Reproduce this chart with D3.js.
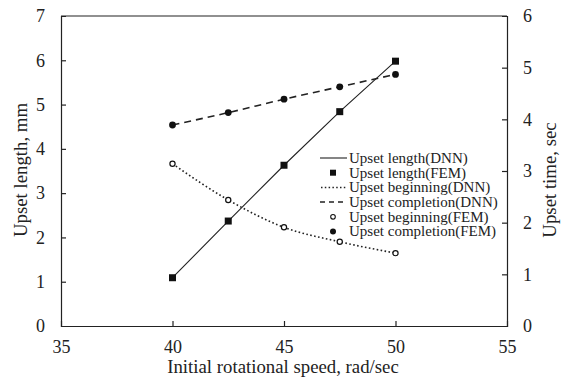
<!DOCTYPE html>
<html>
<head>
<meta charset="utf-8">
<script src="https://cdn.jsdelivr.net/npm/d3@7"></script>
<style>
  body { margin: 0; background: #fff; }
  text { font-family: "Liberation Serif", "Times New Roman", serif; fill: #222; }
</style>
</head>
<body>
<script>
const width = 569;
const height = 385;
const margin = { top: 16, right: 62, bottom: 59, left: 61 };

// values
const speeds = [40, 42.5, 45, 47.5, 50];
const lengthFEM = [1.09, 2.37, 3.63, 4.84, 5.98];
const lengthDNN = [1.09, 2.37, 3.63, 4.84, 5.98];
const beginFEM = [3.14, 2.44, 1.91, 1.63, 1.41];
const beginDNN = [3.14, 2.44, 1.91, 1.63, 1.41];
const completeFEM = [3.89, 4.13, 4.39, 4.63, 4.87];
const completeDNN = [3.89, 4.13, 4.39, 4.63, 4.87];
const xTicks = [35, 40, 45, 50, 55];
const yLeftTicks = [0, 1, 2, 3, 4, 5, 6, 7];
const yRightTicks = [0, 1, 2, 3, 4, 5, 6];
const legendLabels = [
  "Upset length(DNN)", "Upset length(FEM)", "Upset beginning(DNN)",
  "Upset completion(DNN)", "Upset beginning(FEM)", "Upset completion(FEM)"
];

const innerW = width - margin.left - margin.right;
const innerH = height - margin.top - margin.bottom;

const x = d3.scaleLinear().domain([35, 55]).range([0, innerW]);
const yL = d3.scaleLinear().domain([0, 7]).range([innerH, 0]);
const yR = d3.scaleLinear().domain([0, 6]).range([innerH, 0]);

const svg = d3.select("body").append("svg")
  .attr("width", width)
  .attr("height", height);

const g = svg.append("g")
  .attr("transform", `translate(${margin.left},${margin.top})`);

const fmt = d3.format("d");

// axes with inward ticks
const xAxis = g.append("g")
  .attr("transform", `translate(0,${innerH})`)
  .call(d3.axisBottom(x).tickValues(xTicks).tickFormat(fmt).tickSize(-5).tickPadding(14));
const leftAxis = g.append("g")
  .call(d3.axisLeft(yL).tickValues(yLeftTicks).tickFormat(fmt).tickSize(-5).tickPadding(16));
const rightAxis = g.append("g")
  .attr("transform", `translate(${innerW},0)`)
  .call(d3.axisRight(yR).tickValues(yRightTicks).tickFormat(fmt).tickSize(-5).tickPadding(16));

// top border
g.append("line")
  .attr("x1", 0).attr("x2", innerW).attr("y1", 0).attr("y2", 0)
  .attr("stroke", "#222").attr("stroke-width", 1.2);

[xAxis, leftAxis, rightAxis].forEach(a => {
  a.selectAll("path, line").attr("stroke", "#222").attr("stroke-width", 1.2);
  a.selectAll("text").attr("font-size", 18).attr("fill", "#222")
    .style("font-family", "'Liberation Serif', serif");
});
// no tick marks at the axis ends (they sit on the frame)
xAxis.selectAll(".tick line").filter(d => d === 35 || d === 55).remove();
leftAxis.selectAll(".tick line").filter(d => d === 0 || d === 7).remove();
rightAxis.selectAll(".tick line").filter(d => d === 0 || d === 6).remove();

// axis titles
svg.append("text")
  .attr("x", margin.left + innerW / 2 - 1)
  .attr("y", 373)
  .attr("text-anchor", "middle")
  .attr("font-size", 18.8)
  .text("Initial rotational speed, rad/sec");

svg.append("text")
  .attr("transform", "translate(27,170) rotate(-90)")
  .attr("text-anchor", "middle")
  .attr("font-size", 18.8)
  .text("Upset length, mm");

svg.append("text")
  .attr("transform", "translate(556,180) rotate(-90)")
  .attr("text-anchor", "middle")
  .attr("font-size", 18.8)
  .text("Upset time, sec");

// lines
const lineL = d3.line().x((d, i) => x(speeds[i])).y(d => yL(d));
const lineR = d3.line().x((d, i) => x(speeds[i])).y(d => yR(d)).curve(d3.curveMonotoneX);

g.append("path").datum(lengthDNN).attr("d", lineL)
  .attr("fill", "none").attr("stroke", "#222").attr("stroke-width", 1.1);
g.append("path").datum(beginDNN).attr("d", lineR)
  .attr("fill", "none").attr("stroke", "#222").attr("stroke-width", 1.6)
  .attr("stroke-dasharray", "1.6,2.4");
g.append("path").datum(completeDNN).attr("d", lineR)
  .attr("fill", "none").attr("stroke", "#222").attr("stroke-width", 1.6)
  .attr("stroke-dasharray", "7,5");

// markers
g.selectAll(".sq").data(lengthFEM).join("rect")
  .attr("class", "sq")
  .attr("x", (d, i) => x(speeds[i]) - 3.5)
  .attr("y", d => yL(d) - 3.5)
  .attr("width", 7).attr("height", 7)
  .attr("fill", "#111");

g.selectAll(".oc").data(beginFEM).join("circle")
  .attr("class", "oc")
  .attr("cx", (d, i) => x(speeds[i]))
  .attr("cy", d => yR(d))
  .attr("r", 2.6)
  .attr("fill", "#fff").attr("stroke", "#111").attr("stroke-width", 1.2);

g.selectAll(".fc").data(completeFEM).join("circle")
  .attr("class", "fc")
  .attr("cx", (d, i) => x(speeds[i]))
  .attr("cy", d => yR(d))
  .attr("r", 3.4)
  .attr("fill", "#111");

// legend
const lg = svg.append("g").attr("transform", "translate(320,158)");
const rowH = 14.7;
legendLabels.forEach((label, i) => {
  const row = lg.append("g").attr("transform", `translate(0,${i * rowH})`);
  if (i === 0) {
    row.append("line").attr("x1", 0).attr("x2", 27).attr("stroke", "#222").attr("stroke-width", 1.1);
  } else if (i === 1) {
    row.append("rect").attr("x", 10).attr("y", -3).attr("width", 6).attr("height", 6).attr("fill", "#111");
  } else if (i === 2) {
    row.append("line").attr("x1", 1).attr("x2", 27).attr("stroke", "#222").attr("stroke-width", 1.5)
      .attr("stroke-dasharray", "1.5,2.3");
  } else if (i === 3) {
    row.append("line").attr("x1", 0).attr("x2", 27).attr("stroke", "#222").attr("stroke-width", 1.5)
      .attr("stroke-dasharray", "5,4");
  } else if (i === 4) {
    row.append("circle").attr("cx", 13).attr("r", 2.3).attr("fill", "#fff").attr("stroke", "#111").attr("stroke-width", 1.1);
  } else {
    row.append("circle").attr("cx", 13).attr("r", 3).attr("fill", "#111");
  }
  row.append("text")
    .attr("x", 29)
    .attr("dy", "0.33em")
    .attr("font-size", 15)
    .text(label);
});
</script>
</body>
</html>
